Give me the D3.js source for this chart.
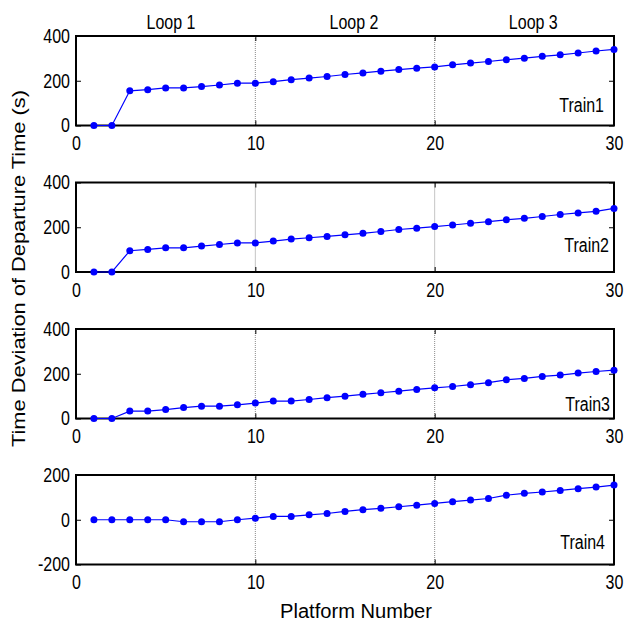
<!DOCTYPE html>
<html>
<head>
<meta charset="utf-8">
<script src="https://cdn.jsdelivr.net/npm/d3@7"></script>
<style>
  html, body { margin: 0; padding: 0; background: #fff; }
  svg { display: block; font-family: "Liberation Sans", Arial, sans-serif; }
</style>
</head>
<body>
<svg id="chart" width="626" height="621"></svg>
<script>
// ---- data ----
const platforms = [1,2,3,4,5,6,7,8,9,10,11,12,13,14,15,16,17,18,19,20,21,22,23,24,25,26,27,28,29,30];
const train1 = [0,0,155,160,168,168,174,181,189,189,196,205,212,219,228,235,243,250,256,262,271,279,286,294,301,309,316,324,333,340];
const train2 = [0,0,95,101,108,108,116,123,130,130,138,147,153,159,166,173,181,190,196,203,210,218,225,233,240,248,257,264,271,284];
const train3 = [0,0,33,33,40,49,55,55,61,69,78,78,85,93,100,108,115,122,130,137,143,151,160,173,179,188,194,203,210,216];
const train4 = [0,0,0,0,0,-9,-9,-9,0,7,15,15,22,28,37,45,51,58,65,73,81,88,95,110,118,124,131,139,146,155];
const trainNames = ["Train1","Train2","Train3","Train4"];
const xTicks = [0,10,20,30];
const loopBoundaries = [10,20];
const loopLabels = ["Loop 1","Loop 2","Loop 3"];
const loopCenters = [5.3,15.5,25.5];
const yDomains = [[0,400],[0,400],[0,400],[-200,200]];
const yTicks = [[0,200,400],[0,200,400],[0,200,400],[-200,0,200]];
const xLabel = "Platform Number";
const yLabel = "Time Deviation of Departure Time (s)";

// ---- layout ----
const series = [train1, train2, train3, train4];
const left = 76, right = 614;
const panelTops = [36, 182.5, 329, 475];
const panelH = 89.5;
const trainLabelPos = [ {x: 604, y: 112}, {x: 609, y: 252}, {x: 610, y: 411}, {x: 605, y: 549} ];
const squeeze = 0.8;

const svg = d3.select("#chart");
const x = d3.scaleLinear().domain([0,30]).range([left, right]);

function squeezeText(sel, f) {
  sel.each(function() {
    const len = this.getComputedTextLength();
    if (len > 0) d3.select(this).attr("textLength", len * f).attr("lengthAdjust", "spacingAndGlyphs");
  });
}

series.forEach((vals, i) => {
  const top = panelTops[i], bottom = top + panelH;
  const y = d3.scaleLinear().domain(yDomains[i]).range([bottom, top]);
  const g = svg.append("g");

  // loop boundary dotted lines
  g.selectAll("line.grid").data(loopBoundaries).enter().append("line")
    .attr("x1", d => x(d)).attr("x2", d => x(d))
    .attr("y1", top).attr("y2", bottom)
    .attr("stroke", "#8a8a8a").attr("stroke-width", 1)
    .attr("stroke-dasharray", "1,1");

  // axes with inward ticks
  const axL = g.append("g").attr("transform", `translate(${left},0)`)
    .call(d3.axisLeft(y).tickValues(yTicks[i]).tickFormat(d => String(d))
      .tickSizeInner(-5).tickSizeOuter(0).tickPadding(6));
  const axR = g.append("g").attr("transform", `translate(${right},0)`)
    .call(d3.axisRight(y).tickValues(yTicks[i]).tickSizeInner(-5).tickSizeOuter(0).tickFormat(""));
  const axB = g.append("g").attr("transform", `translate(0,${bottom})`)
    .call(d3.axisBottom(x).tickValues(xTicks).tickFormat(d => String(d))
      .tickSizeInner(-5).tickSizeOuter(0).tickPadding(10.5));
  const axT = g.append("g").attr("transform", `translate(0,${top})`)
    .call(d3.axisTop(x).tickValues(xTicks).tickSizeInner(-5).tickSizeOuter(0).tickFormat(""));
  [axL, axR, axB, axT].forEach(a => {
    a.select(".domain").remove();
    a.selectAll("line").attr("stroke", "#000").attr("stroke-width", 1);
    a.selectAll("text").attr("font-size", 20).attr("fill", "#000")
      .attr("font-family", '"Liberation Sans", Arial, sans-serif');
  });
  squeezeText(axL.selectAll("text"), squeeze);
  squeezeText(axB.selectAll("text"), squeeze);

  // frame
  g.append("rect").attr("x", left).attr("y", top)
    .attr("width", right - left).attr("height", panelH)
    .attr("fill", "none").attr("stroke", "#000").attr("stroke-width", 2);

  // line + markers
  const pts = platforms.map((p, k) => [p, vals[k]]);
  g.append("path").datum(pts)
    .attr("fill", "none").attr("stroke", "#0000ff").attr("stroke-width", 1.2)
    .attr("d", d3.line().x(d => x(d[0])).y(d => y(d[1])));
  g.selectAll("circle").data(pts).enter().append("circle")
    .attr("cx", d => x(d[0])).attr("cy", d => y(d[1]))
    .attr("r", 3.5).attr("fill", "#0000ff");

  // train label
  const tl = g.append("text").attr("x", trainLabelPos[i].x).attr("y", trainLabelPos[i].y)
    .attr("text-anchor", "end").attr("font-size", 20).attr("fill", "#000").text(trainNames[i]);
  squeezeText(tl, squeeze);
});

// loop labels
const ll = svg.append("g").selectAll("text").data(loopLabels).enter().append("text")
  .attr("x", (d, k) => x(loopCenters[k])).attr("y", 29)
  .attr("text-anchor", "middle").attr("font-size", 20).attr("fill", "#000")
  .text(d => d);
squeezeText(ll, squeeze);

// axis titles
svg.append("text").attr("x", 356).attr("y", 618)
  .attr("text-anchor", "middle").attr("font-size", 20).attr("fill", "#000")
  .attr("textLength", 152).attr("lengthAdjust", "spacingAndGlyphs")
  .text(xLabel);
svg.append("text").attr("transform", "translate(25,268.5) rotate(-90)")
  .attr("text-anchor", "middle").attr("font-size", 19).attr("fill", "#000")
  .attr("textLength", 357).attr("lengthAdjust", "spacingAndGlyphs")
  .text(yLabel);
</script>
</body>
</html>
